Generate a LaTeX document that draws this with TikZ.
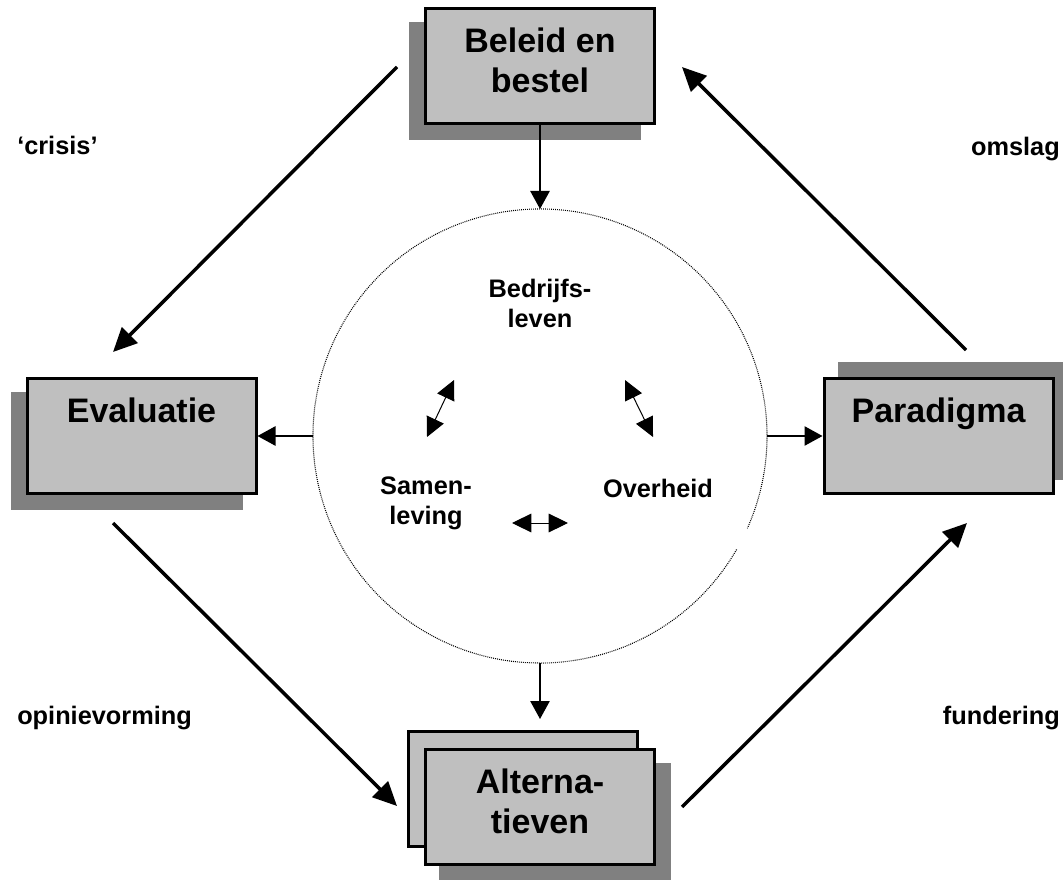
\documentclass[tikz,border=0pt]{standalone}
\usepackage{fontspec}
\setmainfont{Liberation Sans}
\usetikzlibrary{arrows.meta,shadows,calc}
\definecolor{boxgray}{gray}{0.75}
\definecolor{shadowgray}{gray}{0.5}

\begin{document}
\begin{tikzpicture}[x=0.75pt, y=-0.75pt, font=\bfseries,
  block/.style={rectangle, draw, line width=2.25pt, fill=boxgray, minimum width=171.75pt,
    minimum height=86.25pt, inner sep=0pt, align=center,
    font=\fontsize{25.5}{30}\selectfont\bfseries},
  shadow left down/.style={drop shadow={shadow xshift=-11.25pt, shadow yshift=-11.25pt,
    fill=shadowgray, draw=shadowgray, opacity=1}},
  shadow right up/.style={drop shadow={shadow xshift=11.25pt, shadow yshift=11.25pt,
    fill=shadowgray, draw=shadowgray, opacity=1}},
  shadow right down/.style={drop shadow={shadow xshift=11.25pt, shadow yshift=-11.25pt,
    fill=shadowgray, draw=shadowgray, opacity=1}},
  term/.style={inner sep=0pt, align=center, font=\fontsize{19}{22.5}\selectfont\bfseries},
  big line/.style={draw, line width=2.6pt, -{Triangle[length=18pt, width=16.5pt]}},
  line/.style={draw, line width=1.1pt, -{Triangle[length=13.5pt, width=14.5pt]}},
  both line/.style={draw, line width=0.75pt,
    {Triangle[length=14.5pt, width=14pt]}-{Triangle[length=14.5pt, width=14pt]}},
  ]
  \useasboundingbox (0,0) rectangle (1063,880);

  \node (kern) [circle, minimum size=340.5pt, inner sep=0pt, outer sep=0pt] at (540,436) {};
  \draw[line width=0.8pt, dash pattern=on 0.7pt off 0.8pt, black]
    (kern.-30) arc[start angle=30, end angle=384, radius=227];

  \node (beleid) [block, shadow left down] at (540,66) {Beleid en\\bestel\strut};
  \node (evaluatie) [block, shadow left down] at (141.5,436) {Evaluatie\\\strut};
  \node (paradigma) [block, shadow right up] at (938.5,436) {Paradigma\\\strut};
  \node (alternatieven copy) [block] at (523,789) {};
  \node (alternatieven) [block, shadow right down] at (540,807) {Alterna-\\tieven\strut};

  \node (bedrijfsleven) [term] at (540,303) {Bedrijfs-\\leven};
  \node (samenleving) [term] at (426,503.5) {Samen-\\leving};
  \node (overheid) [term] at (658,488) {Overheid};

  \node (crisis) [term, anchor=base west] at (17,155) {‘crisis’};
  \node (omslag) [term, anchor=base east] at (1060,156) {omslag};
  \node (opinievorming) [term, anchor=base west] at (17,724) {opinievorming};
  \node (fundering) [term, anchor=base east] at (1060,724) {fundering};

  \coordinate (left arrow top) at (454,380);
  \coordinate (left arrow bottom) at (427,437);
  \coordinate (right arrow top) at (625,380);
  \coordinate (right arrow bottom) at (653,437);
  \coordinate (bottom arrow left) at (512,523);
  \coordinate (bottom arrow right) at (568,523);

  % cycle round the core:
  \path[big line] ($(beleid.west)+(-27,1)$) -- ($(evaluatie.north)+(-28.5,-25)$);
  \path[big line] ($(evaluatie.south)+(-28.5,28)$) -- ($(alternatieven.west)+(-27,-1)$);
  \path[big line] ($(alternatieven.east)+(26,0)$) -- ($(paradigma.south)+(28.5,28)$);
  \path[big line] ($(paradigma.north)+(27.5,-27)$) -- ($(beleid.east)+(26,1)$);

  \path[line] (beleid.south) -- (kern.north);
  \path[line] (kern.west) -- (evaluatie.east);
  \path[line] (kern.east) -- (paradigma.west);
  \path[line] (kern.south) -- ($(kern.south |- alternatieven copy.north)+(0,-11)$);

  \path[both line] (left arrow top) -- (left arrow bottom);
  \path[both line] (right arrow top) -- (right arrow bottom);
  \path[both line] (bottom arrow left) -- (bottom arrow right);
\end{tikzpicture}
\end{document}
